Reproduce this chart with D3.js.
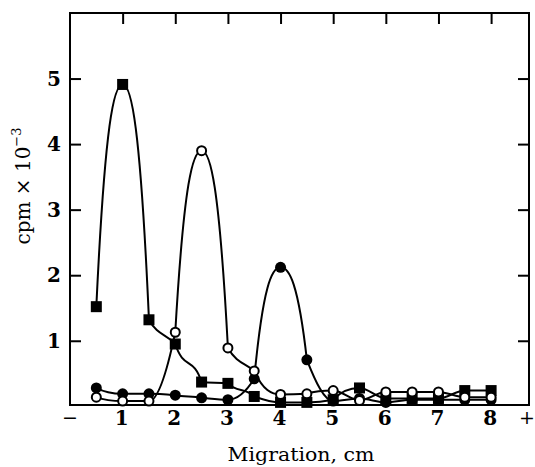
<!DOCTYPE html>
<html>
<head>
<meta charset="utf-8">
<script src="https://cdn.jsdelivr.net/npm/d3@7"></script>
<style>
  html, body { margin: 0; padding: 0; background: #fff; }
  svg { display: block; }
</style>
</head>
<body>
<svg id="chart" width="535" height="467"></svg>
<script>
// ---- data ----
const migration = [0.5, 1, 1.5, 2, 2.5, 3, 3.5, 4, 4.5, 5, 5.5, 6, 6.5, 7, 7.5, 8];
const filledSquares = [1.52, 4.91, 1.32, 0.95, 0.37, 0.35, 0.15, 0.06, 0.06, 0.10, 0.28, 0.12, 0.12, 0.12, 0.24, 0.24];
const openCircles   = [0.14, 0.08, 0.08, 1.13, 3.90, 0.89, 0.54, 0.18, 0.19, 0.24, 0.09, 0.22, 0.22, 0.22, 0.14, 0.14];
const filledCircles = [0.28, 0.19, 0.19, 0.17, 0.13, 0.10, 0.42, 2.12, 0.71, 0.08, 0.12, 0.06, 0.10, 0.10, 0.10, 0.10];
const xTicks = [1, 2, 3, 4, 5, 6, 7, 8];
const yTicks = [1, 2, 3, 4, 5];
const xEndLabels = ["\u2212", "+"];
const xTitle = "Migration, cm";

// hand-drawn-like smooth curve: monotone Hermite pieces, flat at peaks,
// steep tangents on the steep flank of each point (d3 custom curve factory)
function peakCurve(context) {
  let xs, ys;
  return {
    areaStart() {}, areaEnd() {},
    lineStart() { xs = []; ys = []; },
    point(px, py) { xs.push(+px); ys.push(+py); },
    lineEnd() {
      const n = xs.length;
      if (!n) return;
      context.moveTo(xs[0], ys[0]);
      if (n === 1) return;
      const s = [];
      for (let i = 0; i < n - 1; i++) s.push((ys[i + 1] - ys[i]) / (xs[i + 1] - xs[i]));
      const F = 2.5;
      function tan(j, k) {
        const sk = s[k];
        if (sk === 0) return 0;
        if (j === 0 || j === n - 1) return F * sk;
        const sa = s[j - 1], sb = s[j];
        if (sa * sb <= 0) return 0;
        const other = (k === j - 1) ? sb : sa;
        if (Math.abs(sk) >= Math.abs(other)) return F * sk;
        return 2 * Math.sign(sk) * Math.min(Math.abs(sa), Math.abs(sb), 0.5 * Math.abs((sa + sb) / 2));
      }
      for (let k = 0; k < n - 1; k++) {
        let m0 = tan(k, k), m1 = tan(k + 1, k);
        const sk = s[k];
        if (sk !== 0) {
          const a = m0 / sk, b = m1 / sk, r = a * a + b * b;
          if (r > 9) { const t = 3 / Math.sqrt(r); m0 *= t; m1 *= t; }
        }
        const h = xs[k + 1] - xs[k];
        context.bezierCurveTo(xs[k] + h / 3, ys[k] + m0 * h / 3,
                              xs[k + 1] - h / 3, ys[k + 1] - m1 * h / 3,
                              xs[k + 1], ys[k + 1]);
      }
    }
  };
}

(function () {
// ---- layout ----
const svg = d3.select("#chart");
const pLeft = 70, pRight = 529, pTop = 13, pBottom = 405;
const x = d3.scaleLinear().domain([0, 8.72]).range([pLeft, pRight]);
const y = d3.scaleLinear().domain([0.02, 6]).range([pBottom, pTop]);

const serif = "'DejaVu Serif', 'Liberation Serif', serif";

// frame
svg.append("rect")
  .attr("x", pLeft).attr("y", pTop)
  .attr("width", pRight - pLeft).attr("height", pBottom - pTop)
  .attr("fill", "none").attr("stroke", "#000").attr("stroke-width", 2);

// inward ticks: top & left & right
const tickLen = 11;
const axTop = d3.axisBottom(x).tickValues(xTicks).tickSize(tickLen).tickFormat("");
svg.append("g").attr("transform", `translate(0,${pTop})`).call(axTop)
  .call(g => g.select(".domain").remove())
  .selectAll("line").attr("stroke-width", 2);

const axLeft = d3.axisRight(y).tickValues(yTicks).tickSize(tickLen).tickFormat("");
svg.append("g").attr("transform", `translate(${pLeft},0)`).call(axLeft)
  .call(g => g.select(".domain").remove())
  .selectAll("line").attr("stroke-width", 2);

const axRight = d3.axisLeft(y).tickValues(yTicks).tickSize(tickLen).tickFormat("");
svg.append("g").attr("transform", `translate(${pRight},0)`).call(axRight)
  .call(g => g.select(".domain").remove())
  .selectAll("line").attr("stroke-width", 2);

// y tick labels
svg.append("g").selectAll("text").data(yTicks).join("text")
  .attr("x", pLeft - 9).attr("y", d => y(d))
  .attr("dy", "0.36em")
  .attr("text-anchor", "end")
  .attr("font-family", serif).attr("font-size", 20).attr("font-weight", "bold")
  .text(d => d);

// x tick labels
svg.append("g").selectAll("text").data(xTicks).join("text")
  .attr("x", d => x(d) - 1).attr("y", 425)
  .attr("text-anchor", "middle")
  .attr("font-family", serif).attr("font-size", 20).attr("font-weight", "bold")
  .text(d => d);

// end labels − and +
svg.append("text").attr("x", x(0)).attr("y", 424).attr("text-anchor", "middle")
  .attr("font-family", serif).attr("font-size", 19).text(xEndLabels[0]);
svg.append("text").attr("x", x(8.68)).attr("y", 424).attr("text-anchor", "middle")
  .attr("font-family", serif).attr("font-size", 19).text(xEndLabels[1]);

// x title
svg.append("text").attr("x", 301).attr("y", 461).attr("text-anchor", "middle")
  .attr("font-family", serif).attr("font-size", 19)
  .attr("textLength", 147).attr("lengthAdjust", "spacingAndGlyphs")
  .text(xTitle);

// y title
const yt = svg.append("text")
  .attr("transform", "translate(30,186) rotate(-90)")
  .attr("text-anchor", "middle")
  .attr("font-family", serif).attr("font-size", 20);
yt.append("tspan").text("cpm \u00d7 10");
yt.append("tspan").attr("font-size", 13).attr("dy", -9).text("\u22123");

// ---- series ----
const line = d3.line()
  .x((d, i) => x(migration[i]))
  .y(d => y(d))
  .curve(peakCurve);

const series = [filledSquares, openCircles, filledCircles];
svg.append("g").selectAll("path").data(series).join("path")
  .attr("d", d => line(d))
  .attr("fill", "none").attr("stroke", "#000").attr("stroke-width", 2);

// markers
const sq = 11;
svg.append("g").selectAll("rect").data(filledSquares).join("rect")
  .attr("x", (d, i) => x(migration[i]) - sq / 2)
  .attr("y", d => y(d) - sq / 2)
  .attr("width", sq).attr("height", sq)
  .attr("fill", "#000");

svg.append("g").selectAll("circle").data(filledCircles).join("circle")
  .attr("cx", (d, i) => x(migration[i]))
  .attr("cy", d => y(d))
  .attr("r", 5.5).attr("fill", "#000");

svg.append("g").selectAll("circle").data(openCircles).join("circle")
  .attr("cx", (d, i) => x(migration[i]))
  .attr("cy", d => y(d))
  .attr("r", 4.5).attr("fill", "#fff").attr("stroke", "#000").attr("stroke-width", 2);
})();
</script>
</body>
</html>
